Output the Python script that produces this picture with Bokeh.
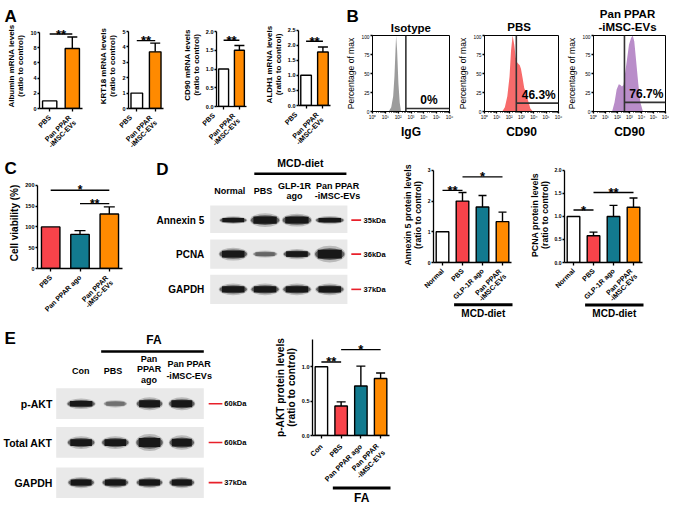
import math
from bokeh.plotting import figure
from bokeh.layouts import row, column
from bokeh.models import (Range1d, FixedTicker, PrintfTickFormatter,
                          Whisker, TeeHead, ColumnDataSource)
from bokeh.core.properties import value
from bokeh.embed import file_html
from bokeh.resources import INLINE

FONT = "Liberation Sans"
WHITE, ORANGE, RED, TEAL = "#ffffff", "#FF8A00", "#F8434A", "#127A8F"

# ---------------- data ----------------
a_cats = ["PBS", "Pan PPAR\n-iMSC-EVs"]
a_colors = [WHITE, ORANGE]
alb_vals, alb_sem = [1.0, 7.9], [0.0, 1.5]
krt_vals, krt_sem = [1.0, 3.68], [0.0, 0.57]
cd90_vals, cd90_sem = [1.0, 1.50], [0.0, 0.13]
aldh_vals, aldh_sem = [1.0, 1.77], [0.0, 0.17]
alb_ticks = [0, 2, 4, 6, 8, 10]
krt_ticks = [0, 1, 2, 3, 4, 5]
cd90_ticks = [0, 0.5, 1.0, 1.5, 2.0]
aldh_ticks = [0, 0.5, 1.0, 1.5, 2.0, 2.5]
alb_sig = [(0, 1, 9.8, "**")]
krt_sig = [(0, 1, 4.41, "**")]
cd90_sig = [(0, 1, 1.77, "**")]
aldh_sig = [(0, 1, 2.13, "**")]

flow_tick_labels = ["10\u2070", "10\u00b9", "10\u00b2", "10\u00b3", "10\u2074", "10\u2075", "10\u2076"]
iso_x = [1.26, 1.46, 1.61, 1.71, 1.79, 1.84, 1.92, 2.02, 2.12, 2.22]
iso_y = [0, 5.5, 20, 46, 80, 100, 80, 37, 12, 0]
pbs_x = [1.44, 1.65, 1.85, 2.03, 2.15, 2.28, 2.41, 2.53, 2.66, 2.86, 2.96, 3.09, 3.22, 3.37, 3.54, 3.72, 3.92]
pbs_y = [0, 5.5, 20, 46, 80, 100, 88, 71, 64, 61, 56, 44, 31, 25, 14, 4, 0]
pan_x = [1.55, 1.75, 1.93, 2.11, 2.24, 2.37, 2.50, 2.63, 2.78, 2.96, 3.14, 3.27, 3.40, 3.55, 3.73, 3.91, 4.12]
pan_y = [0, 12, 29, 36, 35, 33, 35, 50, 67, 88, 97, 100, 92, 67, 37, 12, 0]
flow_titles = ["Isotype", "PBS", "Pan PPAR\n-iMSC-EVs"]
flow_xlabels = ["IgG", "CD90", "CD90"]
gate_x = [2.6, 2.58, 2.58]
gate_y = [4, 11, 12]
gate_pct = ["0%", "46.3%", "76.7%"]

c_cats = ["PBS", "Pan PPAR ago", "Pan PPAR\n-iMSC-EVs"]
c_vals, c_sem = [100, 82, 131], [0, 9, 17]
c_ticks = [0, 50, 100, 150, 200]
c_sig = [(0, 2, 188, "*"), (1, 2, 156, "**")]

d_cats = ["Normal", "PBS", "GLP-1R ago", "Pan PPAR\n-iMSC-EVs"]
d_colors = [WHITE, RED, TEAL, ORANGE]
anx_vals, anx_sem = [1.0, 2.0, 1.81, 1.33], [0, 0.28, 0.37, 0.31]
anx_ticks = [0, 1, 2, 3]
anx_sig = [(0, 1, 2.35, "**"), (1, 3, 2.79, "*")]
pcna_vals, pcna_sem = [1.0, 0.58, 1.0, 1.2], [0, 0.08, 0.24, 0.2]
pcna_ticks = [0, 0.5, 1.0, 1.5, 2.0]
pcna_sig = [(0, 1, 1.14, "*"), (1, 3, 1.52, "**")]

e_cats = ["Con", "PBS", "Pan PPAR ago", "Pan PPAR\n-iMSC-EVs"]
akt_vals, akt_sem = [1.0, 0.43, 0.72, 0.83], [0, 0.06, 0.29, 0.08]
akt_ticks = [0, 0.5, 1.0, 1.5]
akt_sig = [(0, 1, 1.07, "**"), (1, 3, 1.25, "*")]

# western blots: band widths / thicknesses / darkness per lane
d_blot_rows = ["Annexin 5", "PCNA", "GAPDH"]
d_blot_kda = ["35kDa", "36kDa", "37kDa"]
d_blot_w = [[27, 29, 29, 28], [28, 24, 27, 30], [28, 28, 28, 28]]
d_blot_h = [[5.0, 8.7, 8.3, 5.3], [8.3, 4.7, 6.7, 10.7], [7.5, 7.5, 7.5, 7.5]]
d_blot_dark = [[1, 1, 1, 1], [1, 0.85, 1, 1], [1, 1, 1, 1]]
d_heads = [["Normal"], ["PBS"], ["GLP-1R", "ago"], ["Pan PPAR", "-iMSC-EVs"]]

e_blot_rows = ["p-AKT", "Total AKT", "GAPDH"]
e_blot_kda = ["60kDa", "60kDa", "37kDa"]
e_blot_w = [[28, 23, 26, 26], [27, 27, 27, 25], [26, 26, 26, 25]]
e_blot_h = [[6.7, 5.0, 8.3, 8.3], [8.3, 8.3, 11.0, 9.3], [7.3, 7.3, 7.3, 7.3]]
e_blot_dark = [[1, 0.6, 1, 1], [1, 1, 1, 1], [1, 1, 1, 1]]
e_heads = [["Con"], ["PBS"], ["Pan", "PPAR", "ago"], ["Pan PPAR", "-iMSC-EVs"]]

# ---------------- layout helpers ----------------
SX = 669 / 685
SY = 507 / 523


def PX(v):
    return int(round(v * SX))


def PY(v):
    return int(round(v * SY))


def base_fig(box, frame, **kw):
    x0, x1, y0, y1 = box
    fx0, fx1, fy0, fy1 = frame
    p = figure(width=PX(x1) - PX(x0), height=PY(y1) - PY(y0),
               min_border_left=PX(fx0) - PX(x0), min_border_right=PX(x1) - PX(fx1),
               min_border_top=PY(fy0) - PY(y0), min_border_bottom=PY(y1) - PY(fy1),
               output_backend="svg", toolbar_location=None, title=None, **kw)
    p.frame_align = False
    p.outline_line_color = None
    p.background_fill_color = "white"
    p.border_fill_color = "white"
    return p


def decor(box):
    x0, x1, y0, y1 = box
    return base_fig(box, box, x_range=Range1d(x0, x1), y_range=Range1d(y1, y0),
                    x_axis_type=None, y_axis_type=None)


def txt(p, x, y, s, size, align="center", baseline="middle", bold=True, color="black"):
    p.text(x=[x], y=[y], text=[s], text_font=value(FONT), text_font_size=f"{size}px",
           text_font_style="bold" if bold else "normal", text_align=align,
           text_baseline=baseline, text_color=color)


def style_axis(ax, size, tick_out=3, standoff=1, bold=True):
    ax.axis_line_width = 1.3
    ax.axis_line_color = "black"
    ax.major_tick_line_width = 1.3
    ax.major_tick_line_color = "black"
    ax.major_tick_in = 0
    ax.major_tick_out = tick_out
    ax.minor_tick_line_color = None
    ax.minor_tick_out = 0
    ax.minor_tick_in = 0
    ax.major_label_text_font = FONT
    ax.major_label_text_font_size = f"{size}px"
    ax.major_label_text_font_style = "bold" if bold else "normal"
    ax.major_label_text_color = "black"
    ax.major_label_standoff = standoff
    ax.axis_label_text_font = FONT
    ax.axis_label_text_font_style = "bold"
    ax.axis_label_text_color = "black"
    ax.axis_label_text_line_height = 1.0


def bar_chart(box, frame, ytop_px, cats, vals, sems, colors, yticks, fmt, ylabel, sigs,
              ylab_size=9, xlab_size=7, tick_size=5.5, cap=9, group=None,
              lab_gap=1.0, sig_size=13):
    """box = (x0, x1, top, bottom of label area); frame = plotting area (ref px)."""
    x0, x1, y0, y1 = box
    fx0, fx1, fy0, fy1 = frame
    n = len(cats)
    ymax = yticks[-1] * (fy1 - fy0) / (fy1 - ytop_px)
    xr = Range1d(-0.45, n - 1 + 0.45)
    cut = fy1 + 4
    p = base_fig((x0, x1, y0, cut), frame, x_range=xr, y_range=Range1d(0, ymax))
    p.xgrid.visible = False
    p.ygrid.visible = False
    xs = list(range(n))
    src = ColumnDataSource(dict(x=xs, top=vals, color=colors))
    p.vbar(x="x", top="top", bottom=0, width=0.63, fill_color="color",
           line_color="black", line_width=1.4, source=src)
    ei = [i for i in xs if sems[i] > 0]
    esrc = ColumnDataSource(dict(x=ei, lo=[vals[i] for i in ei],
                                 hi=[vals[i] + sems[i] for i in ei]))
    p.add_layout(Whisker(source=esrc, base="x", lower="lo", upper="hi",
                         line_width=1.4, line_color="black",
                         upper_head=TeeHead(size=cap, line_width=1.4, line_color="black"),
                         lower_head=None))
    for i, j, h, s in sigs:
        p.segment(x0=[i], y0=[h], x1=[j], y1=[h], line_width=1.4, line_color="black")
        p.text(x=[(i + j) / 2], y=[h], text=[s], text_font=value(FONT),
               text_font_size=f"{sig_size}px", text_font_style="bold",
               text_align="center", text_baseline="alphabetic")
    ya = p.yaxis[0]
    ya.ticker = FixedTicker(ticks=yticks)
    ya.formatter = PrintfTickFormatter(format=fmt)
    ya.bounds = (0, yticks[-1])
    style_axis(ya, tick_size, tick_out=2, standoff=1)
    ya.axis_label = ylabel
    ya.axis_label_text_font_size = f"{ylab_size}px"
    ya.axis_label_standoff = 2
    xa = p.xaxis[0]
    xa.ticker = FixedTicker(ticks=xs)
    style_axis(xa, 1, tick_out=3, standoff=0)
    xa.major_label_text_font_size = "0px"
    xa.major_label_text_alpha = 0

    # category labels below the axis, drawn on the same x scale
    W = PX(x1) - PX(x0)
    k = (PX(fx1) - PX(fx0)) / (xr.end - xr.start)
    lo = xr.start - (PX(fx0) - PX(x0)) / k
    hi = lo + W / k
    q = base_fig((x0, x1, cut, y1), (x0, x1, cut, y1), x_range=Range1d(lo, hi),
                 y_range=Range1d(-y1, -cut), x_axis_type=None, y_axis_type=None)
    ys = []
    for c in cats:
        h = (c.count("\n") + 1) * xlab_size * 1.15
        ys.append(-(cut + lab_gap + 0.354 * h))
    q.text(x=xs, y=ys, text=cats, angle=math.pi / 4,
           text_font=value(FONT), text_font_size=f"{xlab_size}px", text_font_style="bold",
           text_align="right", text_baseline="middle", text_line_height=1.0)
    if group is not None:
        gstart, glabel, gsize, gline_y, glabel_y = group
        g0, g1 = gstart - 0.42, xr.end + 0.05
        q.segment(x0=[g0], y0=[-gline_y], x1=[g1], y1=[-gline_y], line_color="black",
                  line_width=3)
        q.text(x=[(g0 + g1) / 2], y=[-glabel_y], text=[glabel], text_font=value(FONT),
               text_font_size=f"{gsize}px", text_font_style="bold",
               text_align="center", text_baseline="middle")
    return column(p, q)


def flow_chart(box, frame, xs, ys, color, gx, gy, pct, xlabel):
    p = base_fig(box, frame, x_range=Range1d(0, 6), y_range=Range1d(0, 100))
    p.xgrid.visible = False
    p.ygrid.visible = False
    p.outline_line_color = "black"
    p.outline_line_width = 1
    p.varea(x=xs, y1=[0] * len(xs), y2=ys, fill_color=color)
    p.segment(x0=[gx], y0=[0], x1=[gx], y1=[100], line_color="#333333", line_width=1.6)
    p.segment(x0=[gx], y0=[gy], x1=[6], y1=[gy], line_color="#333333", line_width=1.6)
    p.text(x=[4.4], y=[gy + 2], text=[pct], text_font=value(FONT), text_font_size="12px",
           text_font_style="bold", text_align="center", text_baseline="bottom")
    xa = p.xaxis[0]
    xa.ticker = FixedTicker(ticks=list(range(7)),
                            minor_ticks=[d + math.log10(k) for d in range(6) for k in range(2, 10)])
    xa.major_label_overrides = {i: s for i, s in enumerate(flow_tick_labels)}
    style_axis(xa, 4.8, tick_out=2, standoff=1, bold=False)
    xa.minor_tick_line_color = "black"
    xa.minor_tick_out = 1
    xa.minor_tick_in = 0
    xa.axis_line_width = 1
    xa.axis_label = xlabel
    xa.axis_label_text_font_size = "12px"
    xa.axis_label_standoff = 2
    ya = p.yaxis[0]
    ya.ticker = FixedTicker(ticks=[0, 25, 50, 75, 100])
    style_axis(ya, 4.8, tick_out=2, standoff=1, bold=False)
    ya.axis_line_width = 1
    ya.axis_label = "Percentage of max"
    ya.axis_label_text_font_size = "8.5px"
    ya.axis_label_text_font_style = "normal"
    ya.axis_label_standoff = 2
    return p


def blot(p, x0, x1, y0, y1, lanes, yc, widths, heights, dark):
    p.quad(left=[x0], right=[x1], top=[y0], bottom=[y1], fill_color="#e9e9e9", line_color=None)
    for x, w, h, d in zip(lanes, widths, heights, dark):
        col = "#141414" if d >= 1 else "#5a5a5a"
        p.ellipse(x=[x], y=[yc], width=[w * 1.06], height=[h * 1.6], fill_color=col,
                  fill_alpha=0.22, line_color=None)
        p.ellipse(x=[x], y=[yc], width=[w], height=[h * 1.15], fill_color=col,
                  fill_alpha=0.55, line_color=None)
        p.rect(x=[x], y=[yc], width=[w * 0.82], height=[h * 0.85], fill_color=col,
               fill_alpha=0.92 * d if d < 1 else 0.95, line_color=None)


R1 = 155   # bottom of the first row (ref px)
AT = 24    # top of the panel-A plotting areas (ref px)

# ---------------- row 1 ----------------
a_strip = decor((0, 350, 0, AT))
txt(a_strip, 4, 16.5, "A", 17, align="left", baseline="alphabetic")

a1 = bar_chart((0, 98, AT, R1), (40, 84, AT, 111.7), 33.3, a_cats, alb_vals, alb_sem, a_colors,
               alb_ticks, "%d", "Albumin mRNA levels\n(ratio to control)", alb_sig, cap=10,
               ylab_size=8)
a2 = bar_chart((98, 183, AT, R1), (123, 167, AT, 111.7), 32.3, a_cats, krt_vals, krt_sem, a_colors,
               krt_ticks, "%d", "KRT18 mRNA levels\n(ratio to control)", krt_sig, cap=10,
               ylab_size=8)
a3 = bar_chart((183, 267, AT, R1), (208, 252, AT, 109.3), 32.3, a_cats, cd90_vals, cd90_sem, a_colors,
               cd90_ticks, "%.1f", "CD90 mRNA levels\n(ratio to control)", cd90_sig, cap=10,
               ylab_size=8)
a4 = bar_chart((267, 350, AT, R1), (292, 338, AT, 108.3), 30.7, a_cats, aldh_vals, aldh_sem, a_colors,
               aldh_ticks, "%.1f", "ALDH1 mRNA levels\n(ratio to control)", aldh_sig, cap=10,
               ylab_size=8)

b_strip = decor((350, 685, 0, 35))
txt(b_strip, 354, 16.5, "B", 17, align="left", baseline="alphabetic")
txt(b_strip, 420, 28, flow_titles[0], 11.5)
txt(b_strip, 531, 27, flow_titles[1], 11.5)
t3 = flow_titles[2].split("\n")
txt(b_strip, 642, 14, t3[0], 11.5)
txt(b_strip, 642, 27.5, t3[1], 11.5)

b1 = flow_chart((350, 466, 35, R1), (381, 460, 36, 114), iso_x, iso_y, "#9c9c9c",
                gate_x[0], gate_y[0], gate_pct[0], flow_xlabels[0])
b2 = flow_chart((466, 578, 35, R1), (492, 571, 36, 114), pbs_x, pbs_y, "#F76B6B",
                gate_x[1], gate_y[1], gate_pct[1], flow_xlabels[1])
b3 = flow_chart((578, 685, 35, R1), (604, 681, 36, 114), pan_x, pan_y, "#B98DC9",
                gate_x[2], gate_y[2], gate_pct[2], flow_xlabels[2])

row1 = row(column(a_strip, row(a1, a2, a3, a4)), column(b_strip, row(b1, b2, b3)))

# ---------------- row 2 ----------------
c_strip = decor((0, 150, R1, 183))
txt(c_strip, 4, 174, "C", 17, align="left", baseline="alphabetic")
c_chart = bar_chart((0, 150, 183, 328), (38, 125, 183, 276.7), 191, c_cats, c_vals, c_sem,
                    [RED, TEAL, ORANGE], c_ticks, "%d", "Cell viability (%)", c_sig,
                    ylab_size=10, cap=11, sig_size=12)

d_blot = decor((150, 400, R1, 328))
txt(d_blot, 160, 175, "D", 17, align="left", baseline="alphabetic")
txt(d_blot, 307, 168, "MCD-diet", 10.5)
d_blot.segment(x0=[260], y0=[179], x1=[354], y1=[179], line_color="black", line_width=2.6)
d_head_x = [235, 269, 301, 345]
for hx, lines in zip(d_head_x, d_heads):
    if len(lines) == 1:
        txt(d_blot, hx, 197, lines[0], 9)
    else:
        txt(d_blot, hx, 191.5, lines[0], 9)
        txt(d_blot, hx, 202, lines[1], 9)
d_lanes = [238.5, 271, 303.5, 337]
d_panels = [(211.7, 240, 226.7), (246.7, 276.7, 261.7), (283, 313, 298)]
for k, (py0, py1, yc) in enumerate(d_panels):
    blot(d_blot, 215, 355, py0, py1, d_lanes, yc, d_blot_w[k], d_blot_h[k], d_blot_dark[k])
    txt(d_blot, 209, yc, d_blot_rows[k], 10, align="right")
    d_blot.segment(x0=[359], y0=[yc], x1=[369], y1=[yc], line_color="#E8202A", line_width=1.6)
    txt(d_blot, 371.5, yc, d_blot_kda[k], 7.5, align="left")

d_anx = bar_chart((400, 535, R1, 328), (443, 523, 172, 270.7), 175, d_cats, anx_vals, anx_sem,
                  d_colors, anx_ticks, "%d", "Annexin 5 protein levels\n(ratio to control)", anx_sig,
                  ylab_size=8.8, tick_size=5, cap=8, lab_gap=0.5,
                  group=(1, "MCD-diet", 10, 314, 322.5))
d_pcna = bar_chart((535, 685, R1, 328), (577, 657, 172, 270), 175, d_cats, pcna_vals, pcna_sem,
                   d_colors, pcna_ticks, "%.1f", "PCNA protein levels\n(ratio to control)", pcna_sig,
                   ylab_size=8.8, tick_size=5, cap=8, lab_gap=0.5,
                   group=(1, "MCD-diet", 10, 314, 322.5))

row2 = row(column(c_strip, c_chart), d_blot, d_anx, d_pcna)

# ---------------- row 3 ----------------
e_blot = decor((0, 265, 328, 523))
txt(e_blot, 4, 349, "E", 17, align="left", baseline="alphabetic")
txt(e_blot, 157, 350, "FA", 12)
e_blot.segment(x0=[103], y0=[362], x1=[208], y1=[362], line_color="black", line_width=2.6)
e_head_x = [82, 115, 152, 193]
for hx, lines in zip(e_head_x, e_heads):
    if len(lines) == 1:
        txt(e_blot, hx, 382, lines[0], 9)
    elif len(lines) == 2:
        txt(e_blot, hx, 374.5, lines[0], 9)
        txt(e_blot, hx, 387, lines[1], 9)
    else:
        txt(e_blot, hx, 370, lines[0], 9)
        txt(e_blot, hx, 380.5, lines[1], 9)
        txt(e_blot, hx, 391, lines[2], 9)
e_lanes = [82.5, 117.5, 152.5, 185.5]
e_panels = [(400, 431.7, 416), (440, 471.7, 456), (481.7, 513.3, 497.3)]
for k, (py0, py1, yc) in enumerate(e_panels):
    blot(e_blot, 57, 208, py0, py1, e_lanes, yc, e_blot_w[k], e_blot_h[k], e_blot_dark[k])
    txt(e_blot, 53, yc, e_blot_rows[k], 10.5, align="right")
    e_blot.segment(x0=[213], y0=[yc], x1=[227], y1=[yc], line_color="#E8202A", line_width=1.6)
    txt(e_blot, 229, yc, e_blot_kda[k], 7.5, align="left")

e_chart = bar_chart((265, 420, 328, 523), (319, 398, 350, 449), 342.7, e_cats, akt_vals, akt_sem,
                    d_colors, akt_ticks, "%.1f", "p-AKT protein levels\n(ratio to control)", akt_sig,
                    ylab_size=10.2, tick_size=5.5, cap=9, xlab_size=7.2, lab_gap=3,
                    group=(1, "FA", 12, 503, 513))

row3 = row(e_blot, e_chart)

layout = column(row1, row2, row3)
open("out.html", "w").write(file_html(layout, INLINE))
